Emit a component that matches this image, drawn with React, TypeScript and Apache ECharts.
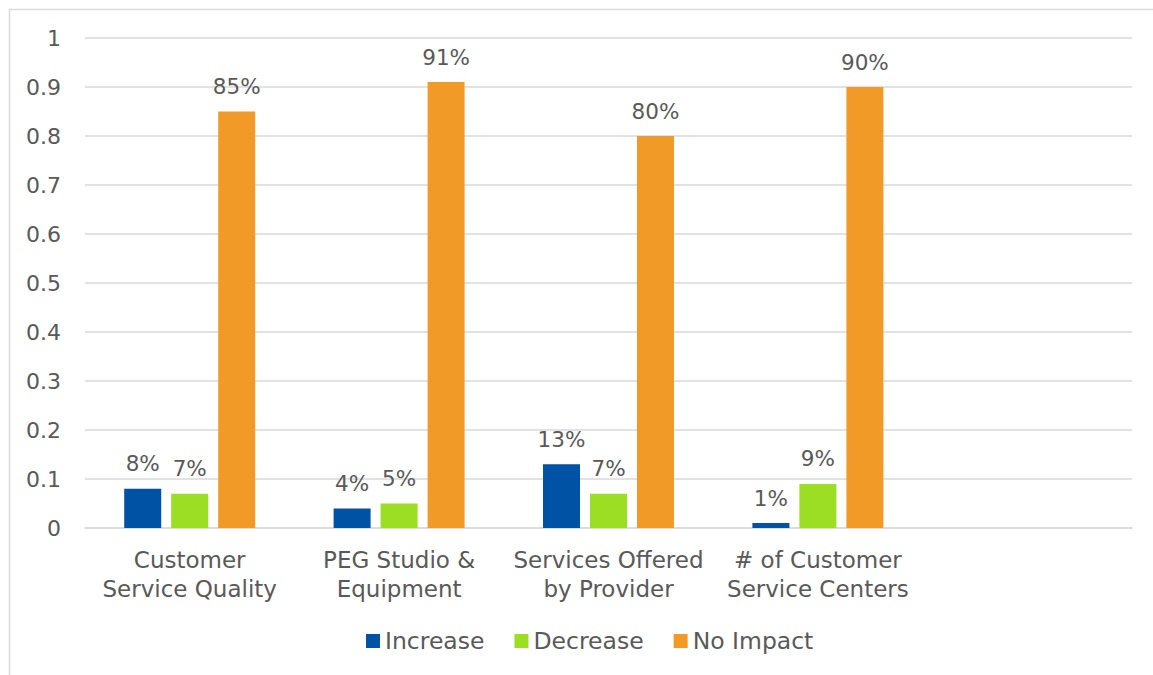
import React, { useEffect, useRef } from "react";
import * as echarts from "echarts";

const categories = [
  "Customer\nService Quality",
  "PEG Studio &\nEquipment",
  "Services Offered\nby Provider",
  "# of Customer\nService Centers",
  "",
];
const increase = [0.08, 0.04, 0.13, 0.01, null];
const decrease = [0.07, 0.05, 0.07, 0.09, null];
const noImpact = [0.85, 0.91, 0.8, 0.9, null];
const seriesNames = ["Increase", "Decrease", "No Impact"];
const colors = ["#0052A5", "#9CDE24", "#F29A27"];

const FONT = "DejaVu Sans";
const TEXT = "#595959";

export default function App() {
  const ref = useRef<HTMLDivElement>(null);
  useEffect(() => {
    if (!ref.current) return;
    const chart = echarts.init(ref.current, null, { renderer: "svg" });
    const label = {
      show: true,
      position: "top" as const,
      distance: 14,
      color: TEXT,
      fontFamily: FONT,
      fontSize: 21.5,
      formatter: (p: any) => Math.round(p.value * 100) + "%",
    };
    const datas = [increase, decrease, noImpact];
    chart.setOption({
      animation: false,
      backgroundColor: "#ffffff",
      textStyle: { fontFamily: FONT },
      graphic: [
        {
          type: "rect",
          shape: { x: 9.5, y: 9.5, width: 1170, height: 700 },
          style: { fill: "none", stroke: "#d9d9d9", lineWidth: 1.5 },
          silent: true,
        },
      ],
      grid: { left: 85, right: 21, top: 38, bottom: 147, containLabel: false },
      legend: {
        data: seriesNames,
        left: 361,
        top: 624,
        itemWidth: 14,
        itemHeight: 14,
        itemGap: 30,
        icon: "rect",
        textStyle: { color: TEXT, fontFamily: FONT, fontSize: 23.5 },
      },
      xAxis: {
        type: "category",
        data: categories,
        axisLine: { lineStyle: { color: "#d9d9d9", width: 1.5 } },
        axisTick: { show: false },
        axisLabel: {
          color: TEXT,
          fontFamily: FONT,
          fontSize: 23,
          lineHeight: 29,
          margin: 17,
          interval: 0,
        },
      },
      yAxis: {
        type: "value",
        min: 0,
        max: 1,
        interval: 0.1,
        axisLine: { show: false },
        axisTick: { show: false },
        axisLabel: {
          color: TEXT,
          fontFamily: FONT,
          fontSize: 22,
          margin: 24,
          formatter: (v: number) => String(Math.round(v * 10) / 10),
        },
        splitLine: { lineStyle: { color: "#d9d9d9", width: 1.5 } },
      },
      series: seriesNames.map((name, i) => ({
        name,
        type: "bar",
        data: datas[i],
        barWidth: 37,
        barGap: "27%",
        itemStyle: { color: colors[i] },
        label,
      })),
    });
    return () => chart.dispose();
  }, []);
  return (
    <div
      ref={ref}
      style={{ position: "absolute", left: 0, top: 0, width: 1153, height: 675 }}
    />
  );
}
